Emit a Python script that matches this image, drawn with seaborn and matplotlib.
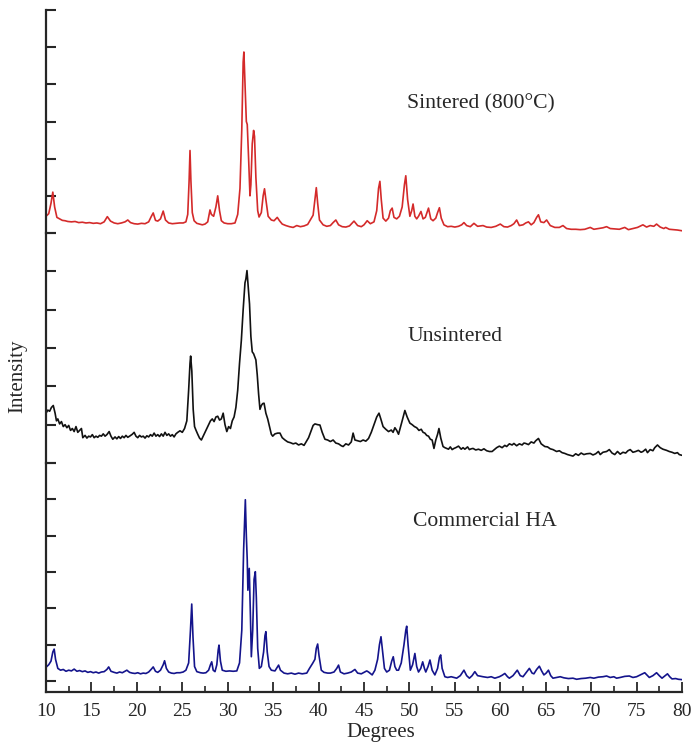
import numpy as np
import pandas as pd
import matplotlib
matplotlib.use("Agg")
import matplotlib.pyplot as plt
import seaborn as sns
from matplotlib.ticker import MultipleLocator

# ---------------- data ----------------
x_sint = [10.0, 10.3, 10.55, 10.75, 10.95, 11.2, 11.5, 11.8, 12.1, 12.4, 12.8, 13.2, 13.6, 14.0, 14.4, 14.8,
          15.2, 15.6, 16.0, 16.4, 16.75, 17.1, 17.5, 17.9, 18.3, 18.7, 19.0, 19.3, 19.7, 20.1, 20.5, 20.9,
          21.3, 21.6, 21.8, 22.05, 22.3, 22.6, 22.9, 23.15, 23.5, 23.9, 24.3, 24.7, 25.1, 25.4, 25.6, 25.75,
          25.85, 25.95, 26.1, 26.3, 26.6, 26.9, 27.2, 27.5, 27.8, 28.05, 28.2, 28.45, 28.7, 28.9, 29.1, 29.3,
          29.6, 30.0, 30.4, 30.8, 31.1, 31.35, 31.55, 31.7, 31.78, 31.9, 32.05, 32.15, 32.3, 32.45, 32.55,
          32.7, 32.85, 32.95, 33.1, 33.3, 33.45, 33.7, 33.9, 34.05, 34.2, 34.45, 34.8, 35.1, 35.45, 35.7,
          36.0, 36.4, 36.8, 37.2, 37.6, 38.0, 38.4, 38.8, 39.2, 39.4, 39.6, 39.75, 39.9, 40.1, 40.5, 40.9,
          41.3, 41.6, 41.9, 42.2, 42.6, 43.0, 43.4, 43.9, 44.3, 44.7, 45.0, 45.35, 45.7, 46.1, 46.4, 46.6,
          46.75, 46.9, 47.1, 47.4, 47.7, 47.9, 48.1, 48.3, 48.6, 48.9, 49.2, 49.45, 49.6, 49.8, 50.05, 50.25,
          50.4, 50.6, 50.8, 51.0, 51.27, 51.5, 51.75, 52.1, 52.35, 52.6, 52.9, 53.1, 53.3, 53.5, 53.8, 54.2,
          54.6, 55.0, 55.4, 55.75, 56.0, 56.3, 56.7, 57.1, 57.5, 58.1, 58.5, 59.0, 59.5, 60.0, 60.4, 60.8,
          61.2, 61.5, 61.8, 62.1, 62.5, 62.8, 63.1, 63.4, 63.7, 64.0, 64.2, 64.45, 64.8, 65.1, 65.5, 66.0,
          66.5, 66.9, 67.3, 67.8, 68.3, 68.8, 69.3, 69.9, 70.3, 70.8, 71.3, 71.7, 72.1, 72.6, 73.1, 73.7,
          74.1, 74.6, 75.1, 75.7, 76.1, 76.5, 76.9, 77.2, 77.6, 78.0, 78.2, 78.6, 79.0, 79.5, 80.0]
y_sint = [0.45, 0.52, 0.8, 1.1, 0.7, 0.42, 0.38, 0.34, 0.33, 0.31, 0.3, 0.31, 0.28, 0.29, 0.27, 0.28,
          0.26, 0.27, 0.25, 0.3, 0.44, 0.32, 0.27, 0.25, 0.27, 0.3, 0.35, 0.28, 0.25, 0.24, 0.26, 0.25,
          0.3, 0.45, 0.54, 0.34, 0.32, 0.38, 0.59, 0.35, 0.27, 0.25, 0.26, 0.27, 0.27, 0.3, 0.5, 1.4,
          2.22, 1.4, 0.55, 0.33, 0.26, 0.24, 0.22, 0.24, 0.3, 0.62, 0.5, 0.45, 0.7, 1.0, 0.6, 0.33,
          0.27, 0.25, 0.25, 0.27, 0.5, 1.2, 2.8, 4.6, 4.87, 4.0, 3.0, 2.92, 2.0, 1.0, 1.3,
          2.4, 2.76, 2.6, 1.5, 0.6, 0.43, 0.55, 1.0, 1.19, 0.9, 0.45, 0.35, 0.33, 0.42, 0.33,
          0.24, 0.2, 0.17, 0.15, 0.2, 0.17, 0.19, 0.23, 0.4, 0.48, 0.9, 1.22, 0.8, 0.35, 0.22, 0.18,
          0.2, 0.28, 0.35, 0.22, 0.17, 0.16, 0.19, 0.32, 0.2, 0.17, 0.22, 0.33, 0.25, 0.3, 0.6, 1.2,
          1.39, 0.9, 0.4, 0.32, 0.4, 0.6, 0.67, 0.42, 0.38, 0.45, 0.7, 1.3, 1.54, 0.9, 0.45, 0.6,
          0.78, 0.45, 0.38, 0.45, 0.58, 0.38, 0.42, 0.67, 0.38, 0.33, 0.4, 0.55, 0.68, 0.4, 0.22, 0.17,
          0.18, 0.16, 0.18, 0.22, 0.28, 0.2, 0.17, 0.26, 0.18, 0.2, 0.16, 0.15, 0.18, 0.24, 0.17, 0.16,
          0.2, 0.25, 0.35, 0.2, 0.22, 0.27, 0.3, 0.22, 0.28, 0.42, 0.49, 0.3, 0.28, 0.35, 0.2, 0.15,
          0.15, 0.2, 0.12, 0.1, 0.1, 0.09, 0.1, 0.15, 0.1, 0.12, 0.14, 0.17, 0.12, 0.11, 0.1, 0.15,
          0.09, 0.12, 0.15, 0.22, 0.16, 0.2, 0.18, 0.24, 0.16, 0.12, 0.15, 0.1, 0.09, 0.08, 0.06]

x_unsint = [10.0, 10.2, 10.4, 10.6, 10.8, 11.0, 11.15, 11.3, 11.5, 11.7, 11.9, 12.1, 12.3, 12.5, 12.7, 12.9,
            13.1, 13.3, 13.5, 13.7, 13.9, 14.05, 14.3, 14.5, 14.7, 14.9, 15.1, 15.3, 15.5, 15.7, 15.9, 16.1,
            16.3, 16.5, 16.7, 16.95, 17.15, 17.35, 17.6, 17.8, 18.0, 18.2, 18.4, 18.6, 18.8, 19.0, 19.2, 19.5,
            19.7, 19.9, 20.1, 20.3, 20.5, 20.7, 20.9, 21.1, 21.3, 21.5, 21.7, 21.9, 22.1, 22.3, 22.5, 22.7,
            22.9, 23.1, 23.3, 23.5, 23.7, 23.9, 24.1, 24.3, 24.5, 24.75, 25.0, 25.25, 25.5, 25.7, 25.85, 25.92,
            26.05, 26.2, 26.35, 26.5, 26.7, 26.9, 27.1, 27.3, 27.5, 27.7, 27.9, 28.1, 28.3, 28.5, 28.7, 28.9,
            29.1, 29.3, 29.5, 29.7, 29.9, 30.1, 30.3, 30.5, 30.7, 30.9, 31.1, 31.3, 31.5, 31.7, 31.9, 32.0,
            32.12, 32.25, 32.4, 32.55, 32.7, 32.85, 33.0, 33.1, 33.25, 33.4, 33.55, 33.7, 33.85, 34.0, 34.2,
            34.4, 34.6, 34.8, 34.95, 35.2, 35.5, 35.75, 36.0, 36.3, 36.6, 36.9, 37.2, 37.5, 37.8, 38.1, 38.4,
            38.7, 38.9, 39.2, 39.4, 39.6, 39.9, 40.15, 40.4, 40.7, 41.0, 41.3, 41.6, 41.9, 42.2, 42.5, 42.7,
            43.0, 43.3, 43.6, 43.8, 44.0, 44.3, 44.6, 44.9, 45.2, 45.5, 45.8, 46.1, 46.4, 46.65, 46.85, 47.1,
            47.4, 47.7, 48.0, 48.2, 48.4, 48.6, 48.8, 49.0, 49.2, 49.5, 49.75, 50.05, 50.3, 50.55, 50.8, 51.05,
            51.3, 51.5, 51.7, 51.9, 52.1, 52.3, 52.5, 52.7, 52.9, 53.1, 53.25, 53.45, 53.7, 53.9, 54.1, 54.3,
            54.5, 54.7, 54.9, 55.1, 55.4, 55.7, 55.9, 56.1, 56.4, 56.6, 56.8, 57.0, 57.3, 57.6, 57.9, 58.2,
            58.5, 58.8, 59.1, 59.3, 59.6, 59.9, 60.2, 60.5, 60.7, 61.0, 61.3, 61.5, 61.8, 62.1, 62.4, 62.6,
            62.8, 63.1, 63.4, 63.7, 63.9, 64.2, 64.5, 64.9, 65.2, 65.5, 65.8, 66.2, 66.5, 66.8, 67.1, 67.4,
            67.7, 68.0, 68.3, 68.6, 68.9, 69.2, 69.5, 69.9, 70.2, 70.5, 70.8, 71.0, 71.3, 71.7, 72.0, 72.3,
            72.6, 72.9, 73.2, 73.5, 73.8, 74.05, 74.3, 74.6, 74.9, 75.2, 75.5, 75.7, 76.0, 76.2, 76.5, 76.8,
            77.0, 77.3, 77.6, 77.9, 78.3, 78.6, 78.9, 79.2, 79.5, 79.7, 80.0]
y_unsint = [1.3, 1.38, 1.35, 1.45, 1.5, 1.3, 1.1, 1.15, 1.02, 1.08, 0.95, 1.0, 0.92, 0.98, 0.85, 0.9,
            0.82, 0.95, 0.8, 0.85, 0.9, 0.66, 0.72, 0.65, 0.7, 0.68, 0.74, 0.66, 0.7, 0.67, 0.72, 0.7,
            0.76, 0.7, 0.74, 0.82, 0.7, 0.62, 0.68, 0.63, 0.69, 0.64, 0.7, 0.66, 0.72, 0.67, 0.7, 0.75,
            0.8, 0.7, 0.66, 0.72, 0.68, 0.7, 0.65, 0.71, 0.68, 0.74, 0.7, 0.78, 0.7, 0.74, 0.69, 0.76,
            0.7, 0.8, 0.72, 0.76, 0.7, 0.74, 0.68, 0.76, 0.8, 0.84, 0.8, 0.9, 1.1, 1.9, 2.6, 2.79,
            2.4, 1.4, 0.95, 0.86, 0.75, 0.65, 0.6, 0.7, 0.8, 0.9, 1.0, 1.1, 1.15, 1.08, 1.2, 1.22,
            1.12, 1.15, 1.3, 1.0, 0.82, 0.95, 0.9, 1.1, 1.2, 1.45, 1.9, 2.6, 3.2, 4.0, 4.7, 4.8,
            5.02, 4.6, 4.15, 3.3, 2.9, 2.85, 2.75, 2.69, 2.3, 1.8, 1.4, 1.5, 1.55, 1.56, 1.3,
            1.15, 0.95, 0.75, 0.7, 0.76, 0.78, 0.78, 0.66, 0.6, 0.55, 0.53, 0.5, 0.52, 0.47, 0.5, 0.46,
            0.58, 0.66, 0.85, 0.98, 1.02, 1.0, 0.99, 0.8, 0.62, 0.6, 0.56, 0.6, 0.52, 0.5, 0.45, 0.43,
            0.5, 0.47, 0.55, 0.78, 0.6, 0.58, 0.56, 0.6, 0.57, 0.64, 0.8, 1.0, 1.2, 1.3, 1.15, 0.95,
            0.88, 0.82, 0.86, 0.8, 0.92, 0.85, 0.75, 0.92, 1.1, 1.37, 1.2, 1.04, 1.0, 0.95, 0.92, 0.85,
            0.88, 0.8, 0.78, 0.72, 0.7, 0.62, 0.6, 0.38, 0.6, 0.75, 0.9, 0.65, 0.43, 0.4, 0.38, 0.36,
            0.42, 0.35, 0.38, 0.4, 0.44, 0.36, 0.4, 0.36, 0.42, 0.35, 0.37, 0.38, 0.34, 0.36, 0.33, 0.37,
            0.32, 0.3, 0.3, 0.34, 0.4, 0.44, 0.4, 0.46, 0.43, 0.5, 0.47, 0.51, 0.45, 0.5, 0.47, 0.52,
            0.51, 0.48, 0.55, 0.52, 0.58, 0.64, 0.5, 0.43, 0.42, 0.37, 0.35, 0.3, 0.32, 0.27, 0.25, 0.22,
            0.2, 0.18, 0.24, 0.2, 0.26, 0.22, 0.24, 0.25, 0.21, 0.24, 0.3, 0.22, 0.28, 0.3, 0.35, 0.26,
            0.22, 0.3, 0.23, 0.28, 0.26, 0.32, 0.35, 0.28, 0.3, 0.33, 0.28, 0.3, 0.36, 0.27, 0.35, 0.32,
            0.4, 0.47, 0.4, 0.36, 0.33, 0.3, 0.28, 0.25, 0.27, 0.22, 0.2]

x_comm = [10.0, 10.3, 10.55, 10.75, 10.9, 11.05, 11.3, 11.6, 11.9, 12.2, 12.5, 12.8, 13.1, 13.4, 13.7, 14.0,
          14.3, 14.6, 14.9, 15.2, 15.5, 15.8, 16.1, 16.4, 16.7, 16.9, 17.15, 17.5, 17.8, 18.1, 18.4, 18.7,
          18.9, 19.2, 19.5, 19.8, 20.1, 20.4, 20.7, 21.0, 21.3, 21.6, 21.8, 22.05, 22.3, 22.6, 22.9, 23.05,
          23.25, 23.5, 23.8, 24.1, 24.4, 24.75, 25.1, 25.4, 25.7, 25.9, 26.04, 26.18, 26.35, 26.6, 27.0, 27.3,
          27.6, 27.9, 28.1, 28.24, 28.4, 28.6, 28.8, 28.95, 29.04, 29.2, 29.4, 29.8, 30.2, 30.6, 31.0, 31.3,
          31.55, 31.75, 31.94, 32.05, 32.15, 32.22, 32.37, 32.5, 32.6, 32.75, 32.9, 33.04, 33.15, 33.3, 33.48,
          33.7, 33.95, 34.1, 34.2, 34.35, 34.55, 34.8, 35.2, 35.45, 35.6, 35.8, 36.2, 36.6, 37.0, 37.4, 37.8,
          38.2, 38.7, 39.0, 39.35, 39.6, 39.75, 39.9, 40.05, 40.3, 40.6, 41.0, 41.3, 41.7, 42.0, 42.2, 42.4,
          42.8, 43.2, 43.6, 44.0, 44.3, 44.7, 45.0, 45.3, 45.5, 45.9, 46.2, 46.5, 46.7, 46.87, 47.05, 47.25,
          47.5, 47.8, 48.05, 48.22, 48.4, 48.6, 48.8, 49.1, 49.4, 49.6, 49.7, 49.85, 50.1, 50.35, 50.6, 50.8,
          51.0, 51.25, 51.46, 51.65, 51.8, 52.05, 52.26, 52.5, 52.8, 53.1, 53.3, 53.44, 53.6, 53.9, 54.2, 54.6,
          55.2, 55.6, 56.0, 56.3, 56.6, 56.9, 57.2, 57.5, 58.1, 58.6, 59.0, 59.4, 59.9, 60.2, 60.5, 60.8,
          61.0, 61.4, 61.87, 62.2, 62.5, 62.9, 63.2, 63.5, 63.7, 64.0, 64.3, 64.55, 64.8, 65.05, 65.3, 65.55,
          65.8, 66.2, 66.6, 67.0, 67.5, 68.0, 68.4, 68.9, 69.4, 69.9, 70.3, 70.8, 71.3, 71.7, 72.1, 72.5,
          72.8, 73.2, 73.7, 74.2, 74.6, 75.0, 75.4, 75.9, 76.4, 76.8, 77.2, 77.5, 77.8, 78.1, 78.4, 78.65,
          78.9, 79.3, 79.6, 80.0]
y_comm = [0.38, 0.45, 0.55, 0.8, 0.88, 0.6, 0.35, 0.3, 0.32, 0.27, 0.3, 0.28, 0.33, 0.27, 0.29, 0.26,
          0.28, 0.24, 0.26, 0.23, 0.25, 0.22, 0.25, 0.26, 0.32, 0.39, 0.27, 0.24, 0.22, 0.25, 0.23, 0.27,
          0.3, 0.24, 0.22, 0.21, 0.23, 0.2, 0.22, 0.21, 0.25, 0.33, 0.39, 0.27, 0.24, 0.3, 0.45, 0.56,
          0.35, 0.25, 0.22, 0.21, 0.23, 0.23, 0.25, 0.3, 0.5, 1.4, 2.12, 1.2, 0.4, 0.26, 0.23, 0.22,
          0.23, 0.3, 0.45, 0.53, 0.3, 0.26, 0.45, 0.85, 0.99, 0.55, 0.3, 0.27, 0.28, 0.27, 0.28, 0.5,
          1.4, 3.6, 4.99, 4.0, 3.33, 2.5, 3.1, 1.8, 0.67, 1.4, 2.8, 3.01, 2.3, 0.9, 0.35,
          0.4, 0.8, 1.25, 1.36, 0.8, 0.4, 0.3, 0.28, 0.38, 0.44, 0.3, 0.22, 0.2, 0.22, 0.19, 0.22,
          0.2, 0.22, 0.35, 0.49, 0.6, 0.9, 1.02, 0.7, 0.3, 0.24, 0.22, 0.22, 0.25, 0.35, 0.44, 0.25,
          0.2, 0.22, 0.25, 0.32, 0.22, 0.2, 0.24, 0.28, 0.25, 0.17, 0.3, 0.6, 1.0, 1.22, 0.8, 0.35,
          0.25, 0.3, 0.55, 0.67, 0.4, 0.3, 0.3, 0.5, 1.0, 1.4, 1.51, 1.0, 0.3, 0.45, 0.76, 0.4,
          0.25, 0.35, 0.53, 0.35, 0.25, 0.4, 0.58, 0.3, 0.17, 0.35, 0.65, 0.72, 0.35, 0.12, 0.1, 0.12,
          0.08, 0.15, 0.3, 0.15, 0.08, 0.15, 0.26, 0.15, 0.12, 0.1, 0.12, 0.08, 0.12, 0.16, 0.21, 0.12,
          0.08, 0.15, 0.3, 0.15, 0.12, 0.25, 0.35, 0.22, 0.2, 0.32, 0.41, 0.28, 0.17, 0.22, 0.3, 0.15,
          0.08, 0.1, 0.12, 0.09, 0.07, 0.08, 0.05, 0.07, 0.08, 0.1, 0.08, 0.11, 0.12, 0.14, 0.1, 0.12,
          0.08, 0.1, 0.13, 0.14, 0.1, 0.12, 0.17, 0.23, 0.1, 0.15, 0.23, 0.15, 0.08, 0.14, 0.2, 0.12,
          0.06, 0.07, 0.05, 0.04]

labels = ["Sintered (800°C)", "Unsintered", "Commercial HA"]
x_ticks = [10, 15, 20, 25, 30, 35, 40, 45, 50, 55, 60, 65, 70, 75, 80]
y_ticks = [0, 1, 2, 3, 4, 5, 6]

# ---------------- style ----------------
sns.set_style("ticks")
plt.rcParams["font.family"] = ["Liberation Serif", "DejaVu Serif"]
plt.rcParams["axes.linewidth"] = 1.6

W, H = 699, 747
fig = plt.figure(figsize=(W / 100, H / 100), dpi=100)

def frac_box(top_px, bottom_px, left_px=46, right_px=682):
    return [left_px / W, 1 - bottom_px / H, (right_px - left_px) / W, (bottom_px - top_px) / H]

ax_top = fig.add_axes(frac_box(10, 233))
ax_mid = fig.add_axes(frac_box(233, 463))
ax_bot = fig.add_axes(frac_box(463, 692))

series = [
    (ax_top, x_sint, y_sint, "#d42a2a", (0, 6)),
    (ax_mid, x_unsint, y_unsint, "#111111", (0, 6)),
    (ax_bot, x_comm, y_comm, "#14148c", (-0.3, 6)),
]

for ax, xs, ys, col, ylim in series:
    df = pd.DataFrame({"Degrees": xs, "Intensity": ys})
    sns.lineplot(data=df, x="Degrees", y="Intensity", ax=ax, color=col,
                 linewidth=1.2, estimator=None, sort=False)
    ax.set_xlim(10, 80)
    ax.set_ylim(*ylim)
    ax.set_yticks(y_ticks)
    ax.set_yticklabels([])
    ax.tick_params(axis="y", direction="in", length=7, width=1.5, left=True)
    for s in ("top", "right"):
        ax.spines[s].set_visible(False)
    ax.set_xlabel("")
    ax.set_ylabel("")
    ax.patch.set_alpha(0)

for ax in (ax_top, ax_mid):
    ax.spines["bottom"].set_visible(False)
    ax.tick_params(axis="x", bottom=False, labelbottom=False)

ax_bot.set_xticks(x_ticks)
ax_bot.set_xticklabels([str(t) for t in x_ticks])
ax_bot.xaxis.set_minor_locator(MultipleLocator(2.5))
ax_bot.tick_params(axis="x", which="major", direction="in", length=7, width=1.3, labelsize=14, pad=8)
ax_bot.tick_params(axis="x", which="minor", direction="in", length=4, width=1.2)

# text labels
fig.text(407 / W, 1 - 104 / H, labels[0], fontsize=15.6, va="center", ha="left")
fig.text(408 / W, 1 - 336 / H, labels[1], fontsize=15.6, va="center", ha="left")
fig.text(413 / W, 1 - 521 / H, labels[2], fontsize=15.6, va="center", ha="left")

fig.text(381 / W, 1 - 733 / H, "Degrees", fontsize=15, va="center", ha="center")
fig.text(18 / W, 1 - 376 / H, "Intensity", fontsize=15, va="center", ha="center", rotation=90)

fig.savefig("out.png", dpi=100)
